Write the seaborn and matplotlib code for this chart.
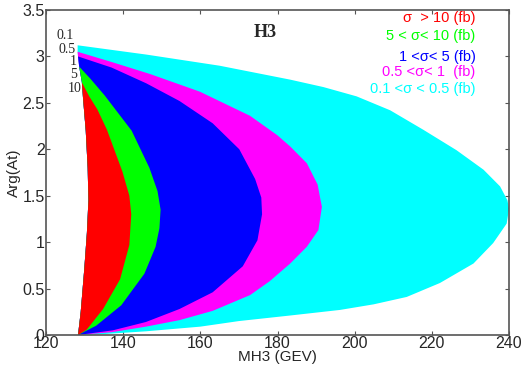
import numpy as np
import matplotlib
matplotlib.use("Agg")
import matplotlib.pyplot as plt
import seaborn as sns

# ================================
# Data
# ================================
# left (common) edge of the allowed region, bottom -> top
left_x = [128.3, 129.0, 129.9, 130.6, 131.0, 130.8, 130.3, 129.6, 129.3, 128.6, 128.3, 128.2, 128.2]
left_y = [0.0, 0.25, 0.70, 1.10, 1.45, 1.80, 2.20, 2.55, 2.72, 2.89, 3.00, 3.05, 3.12]

# right boundary of each cross-section contour, from its tip down to the bottom
cyan_x = [128.2, 146.0, 165.0, 183.3, 191.9, 200.5, 209.2, 217.8, 226.4, 233.4, 237.7, 239.6, 240.0,
          239.4, 235.9, 230.8, 222.1, 213.5, 204.9, 196.2, 183.3, 170.0, 160.0, 146.0, 135.0, 128.3]
cyan_y = [3.12, 3.02, 2.90, 2.75, 2.67, 2.57, 2.42, 2.21, 1.99, 1.78, 1.60, 1.45, 1.36,
          1.20, 0.99, 0.77, 0.56, 0.41, 0.33, 0.27, 0.21, 0.15, 0.09, 0.04, 0.01, 0.0]

mag_x = [128.2, 137.0, 147.0, 159.9, 172.9, 180.0, 183.3, 187.6, 190.4, 191.5, 190.6, 187.6,
         183.3, 178.0, 172.9, 163.2, 154.6, 145.9, 137.0, 128.3]
mag_y = [3.05, 2.94, 2.81, 2.62, 2.36, 2.15, 2.03, 1.85, 1.62, 1.38, 1.13, 0.95,
         0.77, 0.58, 0.43, 0.26, 0.16, 0.09, 0.03, 0.0]

blue_x = [128.3, 137.0, 146.0, 154.6, 163.2, 170.1, 174.2, 175.8, 176.0, 174.8, 171.0, 163.2,
          154.6, 145.9, 137.3, 128.3]
blue_y = [3.00, 2.88, 2.71, 2.52, 2.28, 2.00, 1.68, 1.48, 1.30, 1.02, 0.74, 0.46,
          0.28, 0.14, 0.05, 0.0]

green_x = [128.6, 131.5, 135.2, 142.2, 146.8, 148.9, 149.7, 149.4, 148.4, 145.5, 139.5, 133.0, 128.3]
green_y = [2.89, 2.76, 2.58, 2.20, 1.80, 1.55, 1.35, 1.15, 0.95, 0.66, 0.32, 0.10, 0.0]

red_x = [129.3, 131.2, 133.3, 135.8, 139.8, 141.6, 142.1, 141.6, 139.2, 134.8, 130.6, 128.3]
red_y = [2.72, 2.57, 2.43, 2.21, 1.76, 1.50, 1.30, 0.97, 0.60, 0.28, 0.06, 0.0]

levels = ["0.1", "0.5", "1", "5", "10"]
legend_texts = ["σ  > 10 (fb)", "5 < σ< 10 (fb)", "1 <σ< 5 (fb)", "0.5 <σ< 1  (fb)", "0.1 <σ < 0.5 (fb)"]

# ================================
# Plot
# ================================
sns.set_style("ticks")
plt.rcParams['font.family'] = ['Liberation Sans', 'DejaVu Sans']

fig = plt.figure(figsize=(5.26, 3.68), dpi=100)
ax = fig.add_axes([46 / 526, 33 / 368, 463 / 526, 325 / 368])

colors = ["#00ffff", "#ff00ff", "#0000ff", "#00ff00", "#ff0000"]
curves = [(cyan_x, cyan_y), (mag_x, mag_y), (blue_x, blue_y), (green_x, green_y), (red_x, red_y)]

lx = np.array(left_x)
ly = np.array(left_y)
for (cx, cy), col in zip(curves, colors):
    keep = ly < cy[0]
    px = list(cx) + list(lx[keep])
    py = list(cy) + list(ly[keep])
    ax.fill(px, py, color=col, lw=0)

# contour labels near the tips
label_y = [3.23, 3.07, 2.95, 2.81, 2.65]
label_x = [127.3, 127.6, 128.0, 128.0, 129.3]
for t, x, y in zip(levels, label_x, label_y):
    ax.text(x, y, t, ha="right", va="center", fontsize=10, family="Liberation Serif")

ax.text(176.8, 3.26, "H3", ha="center", va="center", fontsize=13,
        fontweight="bold", family="Liberation Serif")

legend_y = [3.41, 3.22, 2.99, 2.83, 2.65]
for t, y, col in zip(legend_texts, legend_y, colors[::-1]):
    ax.text(231.3, y, t, ha="right", va="center", fontsize=10.5, color=col)

ax.set_xlim(120, 240)
ax.set_ylim(0, 3.5)
ax.set_xticks(np.arange(120, 241, 20))
ax.set_yticks(np.arange(0, 3.51, 0.5))
ax.set_yticklabels(["0", "0.5", "1", "1.5", "2", "2.5", "3", "3.5"])
ax.tick_params(direction="in", top=True, right=True, labelsize=11.5, length=3,
               color="#555555", pad=1)
for s in ax.spines.values():
    s.set_color("#555555")
    s.set_linewidth(1.2)

ax.set_xlabel("MH3 (GEV)", fontsize=11, labelpad=-1)
ax.set_ylabel("Arg(At)", fontsize=11, labelpad=1)

fig.savefig("out.png", dpi=100)
